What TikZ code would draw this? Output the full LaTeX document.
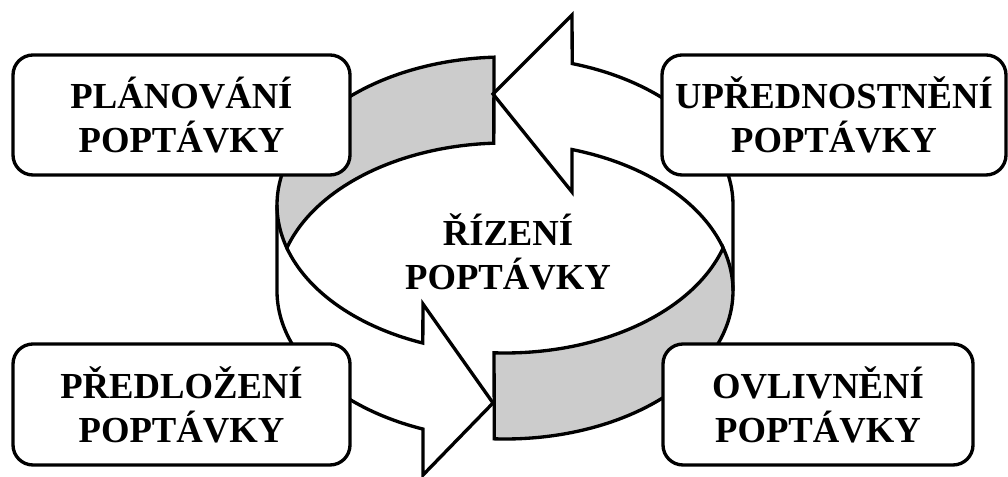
\documentclass[tikz,border=0pt]{standalone}
\usepackage{fontspec}
\setmainfont{Liberation Serif}
\begin{document}
\begin{tikzpicture}[x=0.75pt,y=-0.75pt,
  % ring rims: upper rim centred at (505,205), lower rim at (505,291), radii 228 x 148
  declare function={
    rx(\p,\q,\s)=505+228*cos(\p+(\q-\p)*\s);
    ty(\p,\q,\s)=205-148*sin(\p+(\q-\p)*\s);
    by(\p,\q,\s)=291-148*sin(\p+(\q-\p)*\s);},
  rim/.style={domain=0:1,samples=60,smooth,variable=\t},
  ring/.style={line width=2.5pt, line join=miter, miter limit=20},
  band/.style={ring, draw=black, fill=bandgray},
  boxnode/.style={draw, line width=2.5pt, rounded corners=15pt, fill=white,
    align=center, inner sep=0pt, font=\bfseries\fontsize{27.5}{33}\selectfont},
  title/.style={align=center, inner sep=0pt, font=\bfseries\fontsize{27.5}{33}\selectfont}]
\definecolor{bandgray}{HTML}{CCCCCC}
\useasboundingbox[fill=white] (0,0) rectangle (1008,477);

% grey inner wall at the back left
\filldraw[band] plot[rim] ({rx(92.765,196.9,\t)},{ty(92.765,196.9,\t)})
  -- plot[rim] ({rx(163.1,92.765,\t)},{by(163.1,92.765,\t)}) -- cycle;
% grey outer wall at the front right
\filldraw[band] plot[rim] ({rx(267.235,343.1,\t)},{ty(267.235,343.1,\t)})
  -- plot[rim] ({rx(16.9,-92.765,\t)},{by(16.9,-92.765,\t)}) -- cycle;

% upper arrow, pointing left
\draw[ring] (733,291) -- plot[rim] ({rx(0,72.9,\t)},{ty(0,72.9,\t)})
  -- (572,15) -- (493,94) -- (572,192)
  -- plot[rim] ({rx(72.9,16.9,\t)},{by(72.9,16.9,\t)});
% lower arrow, pointing right
\draw[ring] plot[rim] ({rx(196.9,248.9,\t)},{ty(196.9,248.9,\t)})
  -- (423,304) -- (493,403) -- (423,475)
  -- plot[rim] ({rx(248.9,180,\t)},{by(248.9,180,\t)}) -- (277,205);

% corner boxes
\node[boxnode, minimum width=252.75pt, minimum height=90pt] (plan) at (181.5,115)
  {PLÁNOVÁNÍ\\POPTÁVKY};
\node[boxnode, minimum width=258pt, minimum height=90pt] (upr) at (834,115)
  {UPŘEDNOSTNĚNÍ\\POPTÁVKY};
\node[boxnode, minimum width=252.75pt, minimum height=90.75pt] (pred) at (181.5,404.5)
  {PŘEDLOŽENÍ\\POPTÁVKY};
\node[boxnode, minimum width=232.5pt, minimum height=90.75pt] (ovl) at (818,404.5)
  {OVLIVNĚNÍ\\POPTÁVKY};

% centre label
\node[title] (rizeni) at (508,252) {ŘÍZENÍ\\POPTÁVKY};
\end{tikzpicture}
\end{document}
